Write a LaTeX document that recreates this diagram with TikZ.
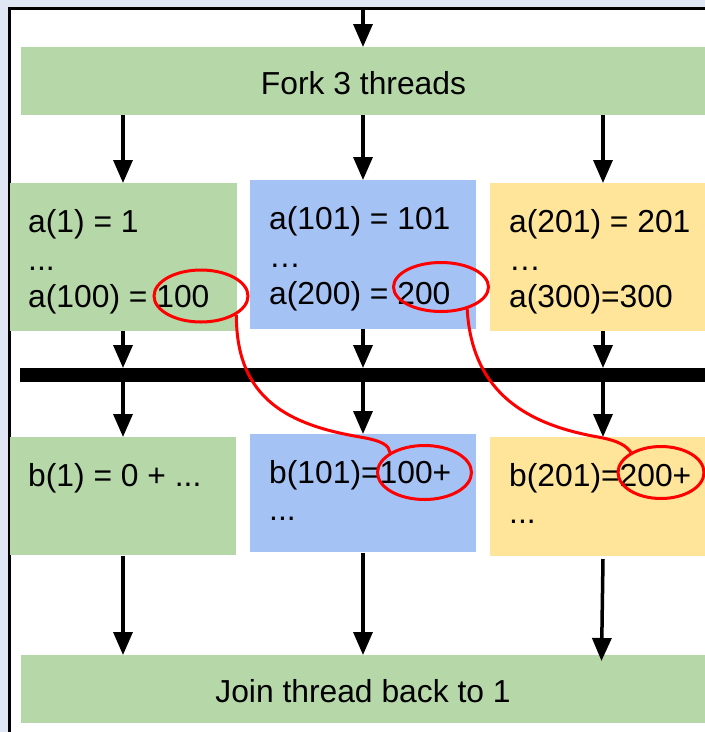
\documentclass[tikz,border=0pt]{standalone}
\usepackage{fontspec}
\setmainfont{Liberation Sans}
\usetikzlibrary{arrows.meta,shapes.geometric}
\definecolor{pagebg}{HTML}{DEE7F3}
\definecolor{gfill}{HTML}{B6D7A8}
\definecolor{bfill}{HTML}{A4C2F4}
\definecolor{yfill}{HTML}{FFE599}
\begin{document}
\begin{tikzpicture}[x=1pt,y=-1pt,
  box/.style={draw=none, rectangle, inner sep=0pt, outer sep=0pt, anchor=north west},
  lbl/.style={anchor=base west, inner sep=0pt, font=\fontsize{31.8}{38}\selectfont},
  title/.style={anchor=base, inner sep=0pt, font=\fontsize{31.8}{38}\selectfont},
  arr/.style={line width=3.5pt, -{Triangle[width=19pt,length=23pt]}},
  hilite/.style={ellipse, draw=red, line width=3pt, inner sep=0pt},
  link/.style={draw=red, line width=3pt}]
  % page background and frame
  \fill[pagebg] (0,0) rectangle (705,732);
  \useasboundingbox (0,0) rectangle (705,732);
  \draw[line width=2.5pt, fill=white] (9.3,8.6) rectangle (712,740);

  % fork / join bars
  \node[box, fill=gfill, minimum width=690pt, minimum height=68pt] (fork) at (21,47) {};
  \node[title] (forktxt) at (363.5,94) {Fork 3 threads};
  \node[box, fill=gfill, minimum width=690pt, minimum height=68pt] (join) at (21,655) {};
  \node[title] (jointxt) at (363,702) {Join thread back to 1};

  % barrier
  \node[box, fill=black, minimum width=690pt, minimum height=14pt] (bar) at (20,368) {};

  % first phase: a(i) = i
  \node[box, fill=gfill, minimum width=227pt, minimum height=148pt] (ga) at (10,183) {};
  \node[box, fill=bfill, minimum width=226pt, minimum height=149pt] (ba) at (250,180) {};
  \node[box, fill=yfill, minimum width=220pt, minimum height=148pt] (ya) at (490,183) {};

  \node[lbl] (ga1) at (28,232) {a(1) = 1};
  \node[lbl] (ga2) at (28,270) {...};
  \node[lbl] (ga3) at (28,307) {a(100) = 100};
  \node[lbl] (ba1) at (269,229) {a(101) = 101};
  \node[lbl] (ba2) at (269,267) {…};
  \node[lbl] (ba3) at (269,304) {a(200) = 200};
  \node[lbl] (ya1) at (509,232) {a(201) = 201};
  \node[lbl] (ya2) at (509,270) {…};
  \node[lbl] (ya3) at (509,307) {a(300)=300};

  % second phase: b(i) = sum
  \node[box, fill=gfill, minimum width=226pt, minimum height=118pt] (gb) at (10,437) {};
  \node[box, fill=bfill, minimum width=226pt, minimum height=118pt] (bb) at (250,434) {};
  \node[box, fill=yfill, minimum width=220pt, minimum height=119pt] (yb) at (490,437) {};

  \node[lbl] (gb1) at (28,486) {b(1) = 0 + ...};
  \node[lbl] (bb1) at (269,483) {b(101)=100+};
  \node[lbl] (bb2) at (269,520) {...};
  \node[lbl] (yb1) at (509,486) {b(201)=200+};
  \node[lbl] (yb2) at (509,523) {...};

  % thread lanes
  \coordinate (top) at (363,8);
  \coordinate (c1) at (123,0);
  \coordinate (c2) at (363,0);
  \coordinate (c3) at (603,0);

  \draw[arr] (top) -- (fork.north -| top);
  \foreach \c/\a/\b in {c1/ga/gb, c2/ba/bb, c3/ya/yb}{
    \draw[arr] (fork.south -| \c) -- (\a.north -| \c);
    \draw[arr] (\a.south -| \c) -- (bar.north -| \c);
    \draw[arr] (bar.south -| \c) -- (\b.north -| \c);
  }
  \draw[arr] ([yshift=-1pt]gb.south -| c1) -- (join.north -| c1);
  \draw[arr] ([yshift=-1pt]bb.south -| c2) -- (join.north -| c2);
  \draw[arr] ([yshift=-3pt]yb.south -| c3) -- ([xshift=-1.5pt,yshift=-6pt]join.north -| c3);

  % highlighted carry values
  \node[hilite, minimum width=94pt, minimum height=52pt] (e1) at (201,296) {};
  \node[hilite, minimum width=95pt, minimum height=49pt] (e2) at (441,287) {};
  \node[hilite, minimum width=94pt, minimum height=54pt] (e3) at (424.5,472.5) {};
  \node[hilite, minimum width=86pt, minimum height=52pt] (e4) at (661,472.5) {};

  \draw[link] (e1.-28) .. controls (236,400) and (290,425) .. (360,437)
              .. controls (384,441) and (389,446) .. (e3.150);
  \draw[link] (e2.-40) .. controls (472,395) and (530,425) .. (598,437)
              .. controls (620,441) and (626,446) .. (e4.146);
\end{tikzpicture}
\end{document}
